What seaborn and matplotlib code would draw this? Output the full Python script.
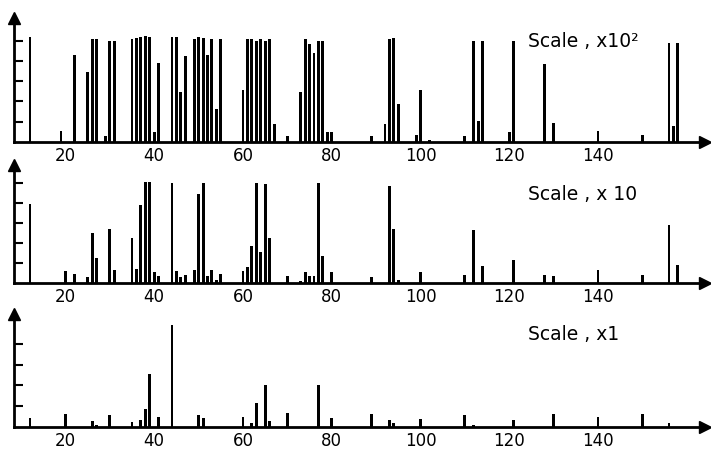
import matplotlib
matplotlib.use("Agg")
import matplotlib.pyplot as plt
import pandas as pd
import seaborn as sns

# ---- data (m/z and peak heights in y-tick units) ----
top_mz = [12, 19, 22, 25, 26, 27, 29, 30, 31, 35, 36, 37, 38, 39, 40, 41, 44, 45, 46, 47,
          49, 50, 51, 52, 53, 54, 55, 60, 61, 62, 63, 64, 65, 66, 67, 70, 73, 74, 75, 76,
          77, 78, 79, 80, 89, 92, 93, 94, 95, 99, 100, 102, 110, 112, 113, 114, 120, 121, 128, 130,
          140, 150, 156, 157, 158]
top_int = [5.17, 0.53, 4.27, 3.45, 5.06, 5.06, 0.30, 5.0, 5.0, 5.06, 5.1, 5.15, 5.2, 5.15, 0.5, 3.9, 5.15, 5.15, 2.46, 4.22,
           5.06, 5.15, 5.1, 4.3, 5.06, 1.64, 5.06, 2.58, 5.06, 5.06, 5.0, 5.06, 5.0, 5.06, 0.9, 0.28, 2.46, 5.06, 4.85, 4.38,
           5.0, 4.97, 0.49, 0.49, 0.28, 0.9, 5.06, 5.1, 1.89, 0.33, 2.55, 0.1, 0.28, 5.0, 1.03, 5.0, 0.49, 5.0, 3.83, 0.94,
           0.53, 0.33, 4.9, 0.77, 4.9]

mid_mz = [12, 20, 22, 25, 26, 27, 30, 31, 35, 36, 37, 38, 39, 40, 41, 44, 45, 46, 47, 49,
          50, 51, 52, 53, 54, 55, 60, 61, 62, 63, 64, 65, 66, 70, 73, 74, 75, 76, 77, 78,
          80, 89, 93, 94, 95, 100, 110, 112, 114, 121, 128, 130, 140, 150, 156, 158]
mid_int = [3.93, 0.61, 0.45, 0.28, 2.49, 1.24, 2.7, 0.63, 2.25, 0.68, 3.9, 5.04, 5.04, 0.53, 0.33, 5.0, 0.61, 0.28, 0.38, 0.63,
           4.43, 4.97, 0.36, 0.65, 0.15, 0.46, 0.61, 0.78, 1.86, 4.97, 1.52, 4.93, 2.22, 0.33, 0.11, 0.56, 0.36, 0.33, 5.0, 1.36,
           0.53, 0.31, 4.84, 2.69, 0.15, 0.53, 0.41, 2.62, 0.83, 1.13, 0.41, 0.36, 0.66, 0.41, 2.9, 0.91]

bot_mz = [12, 20, 26, 27, 30, 35, 37, 38, 39, 41, 44, 50, 51, 60, 62, 63, 65, 66, 70, 77,
          80, 89, 93, 94, 100, 110, 112, 121, 130, 140, 150, 156]
bot_int = [0.43, 0.64, 0.27, 0.12, 0.6, 0.24, 0.32, 0.88, 2.53, 0.48, 4.92, 0.6, 0.43, 0.48, 0.2, 1.17, 2.04, 0.3, 0.69, 2.04,
           0.45, 0.64, 0.32, 0.2, 0.37, 0.6, 0.1, 0.35, 0.61, 0.48, 0.64, 0.2]

x_ticks = [20, 40, 60, 80, 100, 120, 140]
scale_labels = ["Scale , x10²", "Scale , x 10", "Scale , x1"]

sns.set_style("white")
plt.rcParams['font.family'] = ['DejaVu Sans']

fig = plt.figure(figsize=(7.11, 4.5), dpi=100)

W, H = 711.0, 450.0
x_left_px, x_right_px = 14.0, 705.0
xlim = (8.4, 164.1)

# (mz, intensity, baseline_px, top_px, tick_spacing_px, n_yticks, label, label_baseline_px)
panels = [
    (top_mz, top_int, 142.0, 18.0, 20.3, 5, scale_labels[0], 47.0),
    (mid_mz, mid_int, 283.0, 165.0, 20.1, 5, scale_labels[1], 200.0),
    (bot_mz, bot_int, 427.0, 314.0, 20.8, 4, scale_labels[2], 340.0),
]

for mz, inten, base_px, top_px, tsp, nt, label, lab_px in panels:
    rect = [x_left_px / W, (H - base_px) / H, (x_right_px - x_left_px) / W, (base_px - top_px) / H]
    ax = fig.add_axes(rect)
    df = pd.DataFrame({"mz": mz, "intensity": inten})
    sns.barplot(data=df, x="mz", y="intensity", native_scale=True, width=0.65,
                color="black", saturation=1, errorbar=None, linewidth=0, ax=ax)
    ax.set_xlim(*xlim)
    ax.set_ylim(0, (base_px - top_px) / tsp)
    ax.set_xlabel("")
    ax.set_ylabel("")
    for s in ["top", "right"]:
        ax.spines[s].set_visible(False)
    for s in ["left", "bottom"]:
        ax.spines[s].set_visible(True)
        ax.spines[s].set_color("black")
        ax.spines[s].set_linewidth(2.0)
    ax.set_xticks(x_ticks)
    ax.set_xticklabels([str(v) for v in x_ticks])
    ax.tick_params(axis="x", length=0, pad=3.5, labelsize=12, colors="black")
    ax.set_yticks(list(range(1, nt + 1)))
    ax.set_yticklabels([])
    ax.tick_params(axis="y", direction="in", length=6.5, width=1.5, colors="black", left=True)
    # arrow heads
    ax.plot(1, 0, ">", color="black", ms=9, transform=ax.transAxes, clip_on=False)
    ax.plot(0, 1, "^", color="black", ms=9, transform=ax.transAxes, clip_on=False)
    fig.text(528 / W, 1 - lab_px / H, label, fontsize=13.5, ha="left", va="baseline", color="black")

fig.savefig("out.png", dpi=100)
